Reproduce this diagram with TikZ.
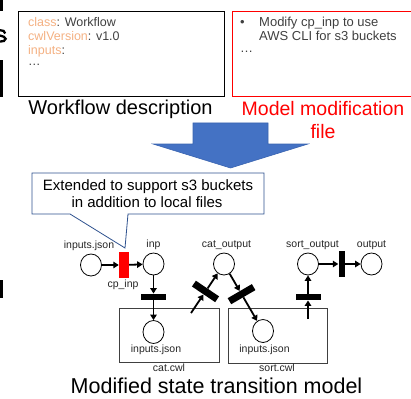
\documentclass[tikz,border=0pt]{standalone}
\usepackage{fontspec}
\setmainfont{Liberation Sans}
\usetikzlibrary{arrows.meta,calc,shapes.geometric}
\definecolor{keyor}{HTML}{F4B183}
\definecolor{codegray}{HTML}{404040}
\definecolor{arrblue}{HTML}{4472C4}
\definecolor{arrblueb}{HTML}{3A64B0}
\definecolor{calloutb}{HTML}{2F528F}
\definecolor{lblgray}{HTML}{262626}
\begin{document}
\begin{tikzpicture}[x=1pt,y=-1pt,
  place/.style={ellipse, draw, line width=0.8pt, minimum width=21pt, minimum height=22pt, inner sep=0pt},
  arr/.style={-{Triangle[length=5.5pt,width=6.5pt]}, line width=1.8pt},
  hbar/.style={fill=black, inner sep=0pt, minimum width=25pt, minimum height=6.5pt},
  vbar/.style={fill=black, inner sep=0pt, minimum width=6pt, minimum height=26pt},
  dbar/.style={fill=black, inner sep=0pt, minimum width=7pt, minimum height=28pt},
  lbl/.style={font=\fontsize{10.5}{12}\selectfont, text=lblgray, inner sep=0pt, anchor=base},
  code/.style={font=\fontsize{12.5}{14}\selectfont, text=codegray, inner sep=0pt, anchor=base west},
  big/.style={font=\fontsize{20}{22}\selectfont, inner sep=0pt, anchor=base},
  cbox/.style={draw=black!75, line width=0.9pt}
]
\useasboundingbox (0,0) rectangle (411,398);

% clipped glyph fragments at the left edge
\fill (0,0) rectangle (3,11);
\fill (0,60) rectangle (3,97);
\fill (0,280) rectangle (3,298);
\draw[line width=2.3pt] (0,30.2) .. controls (3,30.2) and (4.8,31) .. (5.2,33.5);
\draw[line width=2.3pt] (0,35.5) .. controls (3,36.3) and (5.6,37) .. (5.6,38.8) .. controls (5.6,40.8) and (3,41.6) .. (0,41.6);

% workflow description box
\draw[black, line width=0.9pt] (18.5,11) rectangle (224,96);
\node[code] (c1) at (28,27) {\textcolor{keyor}{class}: Workflow};
\node[code] (c2) at (28,41) {\textcolor{keyor}{cwlVersion}: v1.0};
\node[code] (c3) at (28,55) {\textcolor{keyor}{inputs}:};
\node[code] (c4) at (28,66) {\ldots};
\node[big] (wd) at (120.5,115) {Workflow description};

% model modification file box
\draw[red, line width=0.9pt] (412,11) -- (232.5,11) -- (232.5,96) -- (412,96);
\node[code, font=\fontsize{13}{14}\selectfont] (bul) at (240,27) {\textbullet};
\node[code, font=\fontsize{13}{14}\selectfont] (m1) at (259,27) {Modify cp\_inp to use};
\node[code, font=\fontsize{13}{14}\selectfont] (m2) at (259,41) {AWS CLI for s3 buckets};
\node[code, font=\fontsize{13}{14}\selectfont] (m3) at (240,53) {\ldots};
\node[big, text=red, font=\fontsize{19.5}{22}\selectfont] (mm1) at (323,116) {Model modification};
\node[big, text=red, font=\fontsize{19.5}{22}\selectfont] (mm2) at (323,138) {file};

% big blue arrow
\filldraw[fill=arrblue, draw=arrblueb, line width=0.6pt]
  (193,123) -- (268,123) -- (268,144) -- (308,144) -- (230.5,168) -- (153,144) -- (193,144) -- cycle;

% Petri net
\node[place] (pin) at (91,265) {};
\node[fill=red, inner sep=0pt, minimum width=10pt, minimum height=26pt] (cp) at (124,265) {};
\node[place] (inp) at (153.5,264) {};
\node[place] (catout) at (224,264) {};
\node[place] (sortout) at (308,264) {};
\node[place] (out) at (371.5,264) {};

\draw[cbox] (119,308) rectangle (219,362);
\draw[cbox] (228,308) rectangle (327,363);
\node[place, minimum height=23pt] (catin) at (153.5,332) {};
\node[place, minimum height=23pt] (sortin) at (263,331) {};

\node[hbar] (t1) at (153.5,297) {};
\coordinate (s3) at (191,313);
\node[dbar, rotate=56] (t3) at ($(s3)!0.44!(catout)$) {};
\node[dbar, rotate=-59.8] (t4) at ($(catout)!0.45!(sortin)$) {};
\coordinate (s5) at (308,319);
\node[hbar] (t5) at (308,297) {};
\node[vbar] (t6) at (341.5,264) {};

\draw[arr] (pin) -- (cp);
\draw[arr] (cp) -- (inp);
\draw[arr] (inp) -- (t1);
\draw[arr] (t1) -- (catin);
\draw[arr] (s3) -- (t3);
\draw[arr] (t3) -- (catout);
\draw[arr] (catout) -- (t4);
\draw[arr] (t4) -- (sortin);
\draw[arr] (s5) -- (t5);
\draw[arr] (t5) -- (sortout);
\draw[arr] (sortout) -- (t6);
\draw[arr] (t6) -- (out);

% labels
\node[lbl] (lpin) at (89,248) {inputs.json};
\node[lbl] (lcp) at (123,287) {cp\_inp};
\node[lbl] (linp) at (153.5,247) {inp};
\node[lbl] (lcat) at (226.5,247) {cat\_output};
\node[lbl] (lsort) at (312.5,247) {sort\_output};
\node[lbl] (lout) at (371.5,247) {output};
\node[lbl] (lcatin) at (156,352) {inputs.json};
\node[lbl] (lsortin) at (264.5,352) {inputs.json};
\node[lbl] (lcatcwl) at (169,371.5) {cat.cwl};
\node[lbl] (lsortcwl) at (277,371.5) {sort.cwl};

\node[big, font=\fontsize{21.5}{24}\selectfont] (title) at (216.5,393) {Modified state transition model};

% callout
\coordinate (ctip) at (125,248);
\filldraw[fill=white, draw=calloutb, line width=0.8pt]
  (32,173) -- (264,173) -- (264,214) -- (128,214) -- (ctip) -- (70,214) -- (32,214) -- cycle;
\node[big, font=\fontsize{15}{17}\selectfont] (ct1) at (148,190) {Extended to support s3 buckets};
\node[big, font=\fontsize{15}{17}\selectfont] (ct2) at (147,207) {in addition to local files};
\end{tikzpicture}
\end{document}
